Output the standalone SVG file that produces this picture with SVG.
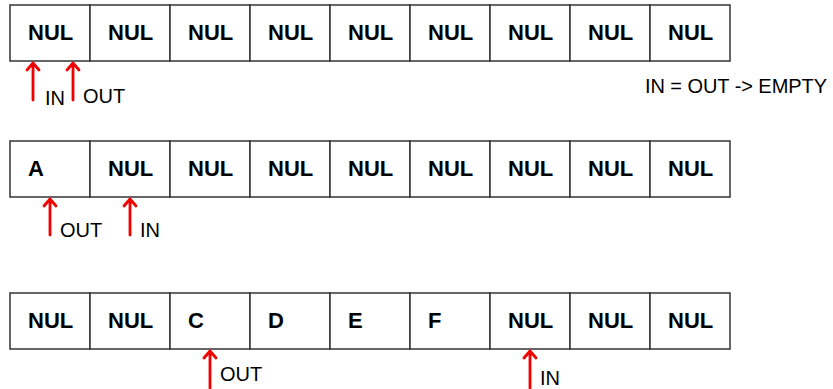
<svg xmlns="http://www.w3.org/2000/svg" width="833" height="389" viewBox="0 0 833 389">
<style>
.cell{fill:#fff;stroke:#333;stroke-width:1.5}
.v{font-family:"Liberation Sans",Arial,sans-serif;font-weight:bold;font-size:22px;fill:#000}
.lbl{font-family:"Liberation Sans",Arial,sans-serif;font-size:20px;fill:#000}
.arr{fill:none;stroke:#f00000;stroke-width:2.8;stroke-linecap:round;stroke-linejoin:round}
</style>
<rect width="833" height="389" fill="#fff"/>
<g id="row1">
<g id="r1c1"><rect class="cell" x="10" y="5" width="80" height="56"/><text class="v" x="28" y="40">NUL</text></g>
<g id="r1c2"><rect class="cell" x="90" y="5" width="80" height="56"/><text class="v" x="108" y="40">NUL</text></g>
<g id="r1c3"><rect class="cell" x="170" y="5" width="80" height="56"/><text class="v" x="188" y="40">NUL</text></g>
<g id="r1c4"><rect class="cell" x="250" y="5" width="80" height="56"/><text class="v" x="268" y="40">NUL</text></g>
<g id="r1c5"><rect class="cell" x="330" y="5" width="80" height="56"/><text class="v" x="348" y="40">NUL</text></g>
<g id="r1c6"><rect class="cell" x="410" y="5" width="80" height="56"/><text class="v" x="428" y="40">NUL</text></g>
<g id="r1c7"><rect class="cell" x="490" y="5" width="80" height="56"/><text class="v" x="508" y="40">NUL</text></g>
<g id="r1c8"><rect class="cell" x="570" y="5" width="80" height="56"/><text class="v" x="588" y="40">NUL</text></g>
<g id="r1c9"><rect class="cell" x="650" y="5" width="80" height="56"/><text class="v" x="668" y="40">NUL</text></g>
</g>
<g id="row2">
<g id="r2c1"><rect class="cell" x="10" y="141" width="80" height="56"/><text class="v" x="28" y="176">A</text></g>
<g id="r2c2"><rect class="cell" x="90" y="141" width="80" height="56"/><text class="v" x="108" y="176">NUL</text></g>
<g id="r2c3"><rect class="cell" x="170" y="141" width="80" height="56"/><text class="v" x="188" y="176">NUL</text></g>
<g id="r2c4"><rect class="cell" x="250" y="141" width="80" height="56"/><text class="v" x="268" y="176">NUL</text></g>
<g id="r2c5"><rect class="cell" x="330" y="141" width="80" height="56"/><text class="v" x="348" y="176">NUL</text></g>
<g id="r2c6"><rect class="cell" x="410" y="141" width="80" height="56"/><text class="v" x="428" y="176">NUL</text></g>
<g id="r2c7"><rect class="cell" x="490" y="141" width="80" height="56"/><text class="v" x="508" y="176">NUL</text></g>
<g id="r2c8"><rect class="cell" x="570" y="141" width="80" height="56"/><text class="v" x="588" y="176">NUL</text></g>
<g id="r2c9"><rect class="cell" x="650" y="141" width="80" height="56"/><text class="v" x="668" y="176">NUL</text></g>
</g>
<g id="row3">
<g id="r3c1"><rect class="cell" x="10" y="293" width="80" height="56"/><text class="v" x="28" y="328">NUL</text></g>
<g id="r3c2"><rect class="cell" x="90" y="293" width="80" height="56"/><text class="v" x="108" y="328">NUL</text></g>
<g id="r3c3"><rect class="cell" x="170" y="293" width="80" height="56"/><text class="v" x="188" y="328">C</text></g>
<g id="r3c4"><rect class="cell" x="250" y="293" width="80" height="56"/><text class="v" x="268" y="328">D</text></g>
<g id="r3c5"><rect class="cell" x="330" y="293" width="80" height="56"/><text class="v" x="348" y="328">E</text></g>
<g id="r3c6"><rect class="cell" x="410" y="293" width="80" height="56"/><text class="v" x="428" y="328">F</text></g>
<g id="r3c7"><rect class="cell" x="490" y="293" width="80" height="56"/><text class="v" x="508" y="328">NUL</text></g>
<g id="r3c8"><rect class="cell" x="570" y="293" width="80" height="56"/><text class="v" x="588" y="328">NUL</text></g>
<g id="r3c9"><rect class="cell" x="650" y="293" width="80" height="56"/><text class="v" x="668" y="328">NUL</text></g>
</g>
<g id="connectors">
<path class="arr" d="M33,100 V63 M27,70 L33,63 L39,70"/>
<path class="arr" d="M73,100 V63 M67,70 L73,63 L79,70"/>
<path class="arr" d="M50,235 V199 M44,206 L50,199 L56,206"/>
<path class="arr" d="M130,235 V199 M124,206 L130,199 L136,206"/>
<path class="arr" d="M210,388 V351 M204,358 L210,351 L216,358"/>
<path class="arr" d="M530,388 V351 M524,358 L530,351 L536,358"/>
</g>
<g id="labels">
<text class="lbl" x="45" y="105">IN</text>
<text class="lbl" x="83" y="103">OUT</text>
<text class="lbl" x="60" y="237">OUT</text>
<text class="lbl" x="140" y="237">IN</text>
<text class="lbl" x="220" y="381">OUT</text>
<text class="lbl" x="540" y="385">IN</text>
<text class="lbl" x="645" y="93" textLength="182">IN = OUT -&gt; EMPTY</text>
</g>
</svg>
